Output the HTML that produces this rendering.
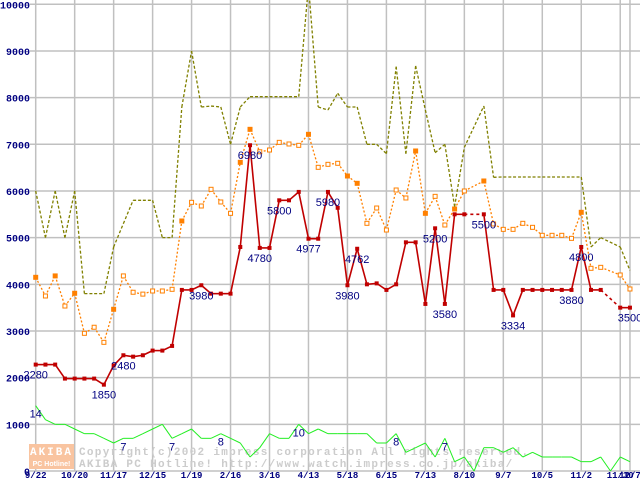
<!DOCTYPE html>
<html><head><meta charset="utf-8"><style>
html,body{margin:0;padding:0;background:#fff;width:640px;height:480px;overflow:hidden}
svg{display:block}
</style></head><body>
<svg id="chart" width="640" height="480" xmlns="http://www.w3.org/2000/svg" font-family="Liberation Sans, sans-serif">
<rect x="0" y="0" width="640" height="480" fill="#fff"/>
<g id="grid"></g>
<g id="watermark">
 <rect x="29" y="444" width="45" height="12" fill="#f9c4a0"/>
 <rect x="29" y="456" width="45" height="13" fill="#f9c4a0"/>
 <text x="51.5" y="455" font-size="11" font-weight="bold" fill="#fff" text-anchor="middle" font-family="Liberation Mono, monospace" letter-spacing="2">AKIBA</text>
 <text x="51.5" y="466" font-size="7" font-weight="bold" fill="#fff" text-anchor="middle">PC Hotline!</text>
 <text x="79" y="455" font-size="11" font-weight="bold" fill="#cccccc" font-family="Liberation Mono, monospace" letter-spacing="1.3">Copyright(c)2002 impress corporation All rights reserved.</text>
 <text x="79" y="467" font-size="11" font-weight="bold" fill="#cccccc" font-family="Liberation Mono, monospace" letter-spacing="1.3">AKIBA PC Hotline!  http://www.watch.impress.co.jp/akiba/</text>
</g>
<g id="series"></g>
<g id="axes"></g>
</svg>
<script>
const yTicks = [0,1000,2000,3000,4000,5000,6000,7000,8000,9000,10000];
const xTickIdx = [0,4,8,12,16,20,24,28,32,36,40,44,48,52,56,60,61];
const xTickLabels = ["9/22","10/20","11/17","12/15","1/19","2/16","3/16","4/13","5/18","6/15","7/13","8/10","9/7","10/5","11/2","11/30","12/7"];
const priceMin = [2280,2280,2280,1980,1980,1980,1980,1850,2260,2480,2450,2480,2580,2580,2680,3880,3880,3980,3800,3800,3800,4800,6980,4780,4780,5800,5800,5980,4977,4977,5980,5640,3980,4762,4000,4020,3880,4000,4900,4900,3580,5200,3580,5500,5500,null,5500,3880,3880,3334,3880,3880,3880,3880,3880,3880,4800,3880,3880,null,3500,3500];
const priceAvg = [4150,3750,4180,3535,3808,2950,3080,2757,3465,4180,3830,3790,3857,3857,3893,5357,5757,5678,6036,5764,5521,6614,7321,6840,6878,7042,7007,6978,7214,6507,6571,6593,6321,6164,5307,5635,5164,6021,5850,6857,5521,5885,5271,5614,6000,null,6214,5293,5178,5178,5307,5221,5050,5050,5050,4985,5543,4343,4364,null,4200,3900];
const avgFilled = [0,2,4,8,15,21,22,28,32,33,39,40,43,46,56];
const priceMax = [6000,5000,6000,5000,6000,3800,3800,3800,4800,5300,5800,5800,5800,5000,5000,7800,9000,7800,7820,7800,7000,7800,8020,8020,8020,8020,8020,8020,10400,7800,7735,8093,7800,7800,7000,7000,6800,8664,6800,8680,7735,6820,7000,5664,6935,null,7821,6293,6300,6300,6300,6300,6300,6300,6300,6300,6300,4800,5000,null,4800,4300];
const shopCount = [14,11,10,10,9,8,8,7,6,7,7,8,9,10,7,8,9,7,7,8,7,6,3,5,8,7,7,10,8,9,8,8,8,8,8,6,6,8,4,5,6,3,7,2,3,0,5,5,4,5,3,4,3,3,3,3,2,2,3,0,3,2];
const minLabelIdx = [0,7,9,17,22,23,25,28,30,32,33,41,42,46,49,55,56,61];
const countLabelIdx = [0,9,14,19,27,37,42];

const NS="http://www.w3.org/2000/svg";
const X0=35.7, DX=9.742, Y0=471, KY=0.04667;
function xs(i){return X0+i*DX;}
function ys(v){return Y0-v*KY;}
function mk(tag,attrs,parent){const e=document.createElementNS(NS,tag);for(const k in attrs)e.setAttribute(k,attrs[k]);parent.appendChild(e);return e;}
const grid=document.getElementById('grid'), series=document.getElementById('series'), axes=document.getElementById('axes');

yTicks.forEach(v=>{
 const l=mk('line',{x1:30,x2:640,y1:ys(v),y2:ys(v),stroke:'#c0c0c0','stroke-width':1.5},grid);
 
 
 const t=mk('text',{x:30,y:Math.max(ys(v)+4,8),'text-anchor':'end','font-size':10,'font-weight':'bold',fill:'#000080','font-family':'Liberation Mono, monospace'},axes);
 t.textContent=v;
 
 
});
xTickIdx.forEach((i,k)=>{
 const l=mk('line',{x1:xs(i),x2:xs(i),y1:0,y2:471,stroke:'#c0c0c0','stroke-width':1.5},grid);
 
 
 const t=mk('text',{x:xs(i),y:478,'text-anchor':'middle','font-size':9,'font-weight':'bold',fill:'#000080','font-family':'Liberation Mono, monospace'},axes);
 t.textContent=xTickLabels[k];
 
 
});

function drawLine(arr,scale,stroke,width,dash,name){
 let prev=-1;
 for(let i=0;i<arr.length;i++){
  if(arr[i]==null)continue;
  if(prev>=0){
   const gap=(i-prev)>1;
   const seg=mk('line',{x1:xs(prev),y1:ys(arr[prev]*scale),x2:xs(i),y2:ys(arr[i]*scale),stroke:stroke,'stroke-width':width},series);
   if(dash)seg.setAttribute('stroke-dasharray',dash);
   else if(gap)seg.setAttribute('stroke-dasharray','3,3');
   
   
  }
  prev=i;
 }
}
drawLine(priceMax,1,'#808000',1.3,'3,2','max-price');
drawLine(priceAvg,1,'#ff8000',1.3,'2,2','avg-price');
drawLine(shopCount,100,'#22ee22',1,null,'shop-count');
drawLine(priceMin,1,'#c00000',1.6,null,'min-price');

priceAvg.forEach((v,i)=>{
 if(v==null)return;
 const f=avgFilled.indexOf(i)>=0;
 const r=mk('rect',{x:xs(i)-2,y:ys(v)-2,width:4,height:4,fill:f?'#ff8000':'#fff',stroke:'#ff8000','stroke-width':1},series);
 
 
});
priceMin.forEach((v,i)=>{
 if(v==null)return;
 const r=mk('rect',{x:xs(i)-2,y:ys(v)-2,width:4,height:4,fill:'#c00000'},series);
 
 
});
minLabelIdx.forEach(i=>{
 const t=mk('text',{x:xs(i),y:ys(priceMin[i])+14,'text-anchor':'middle','font-size':11,fill:'#000080'},series);
 t.textContent=priceMin[i];
 
 
});
countLabelIdx.forEach(i=>{
 const t=mk('text',{x:xs(i),y:ys(shopCount[i]*100)+12,'text-anchor':'middle','font-size':11,fill:'#000080'},series);
 t.textContent=shopCount[i];
 
 
});
</script>
</body></html>
